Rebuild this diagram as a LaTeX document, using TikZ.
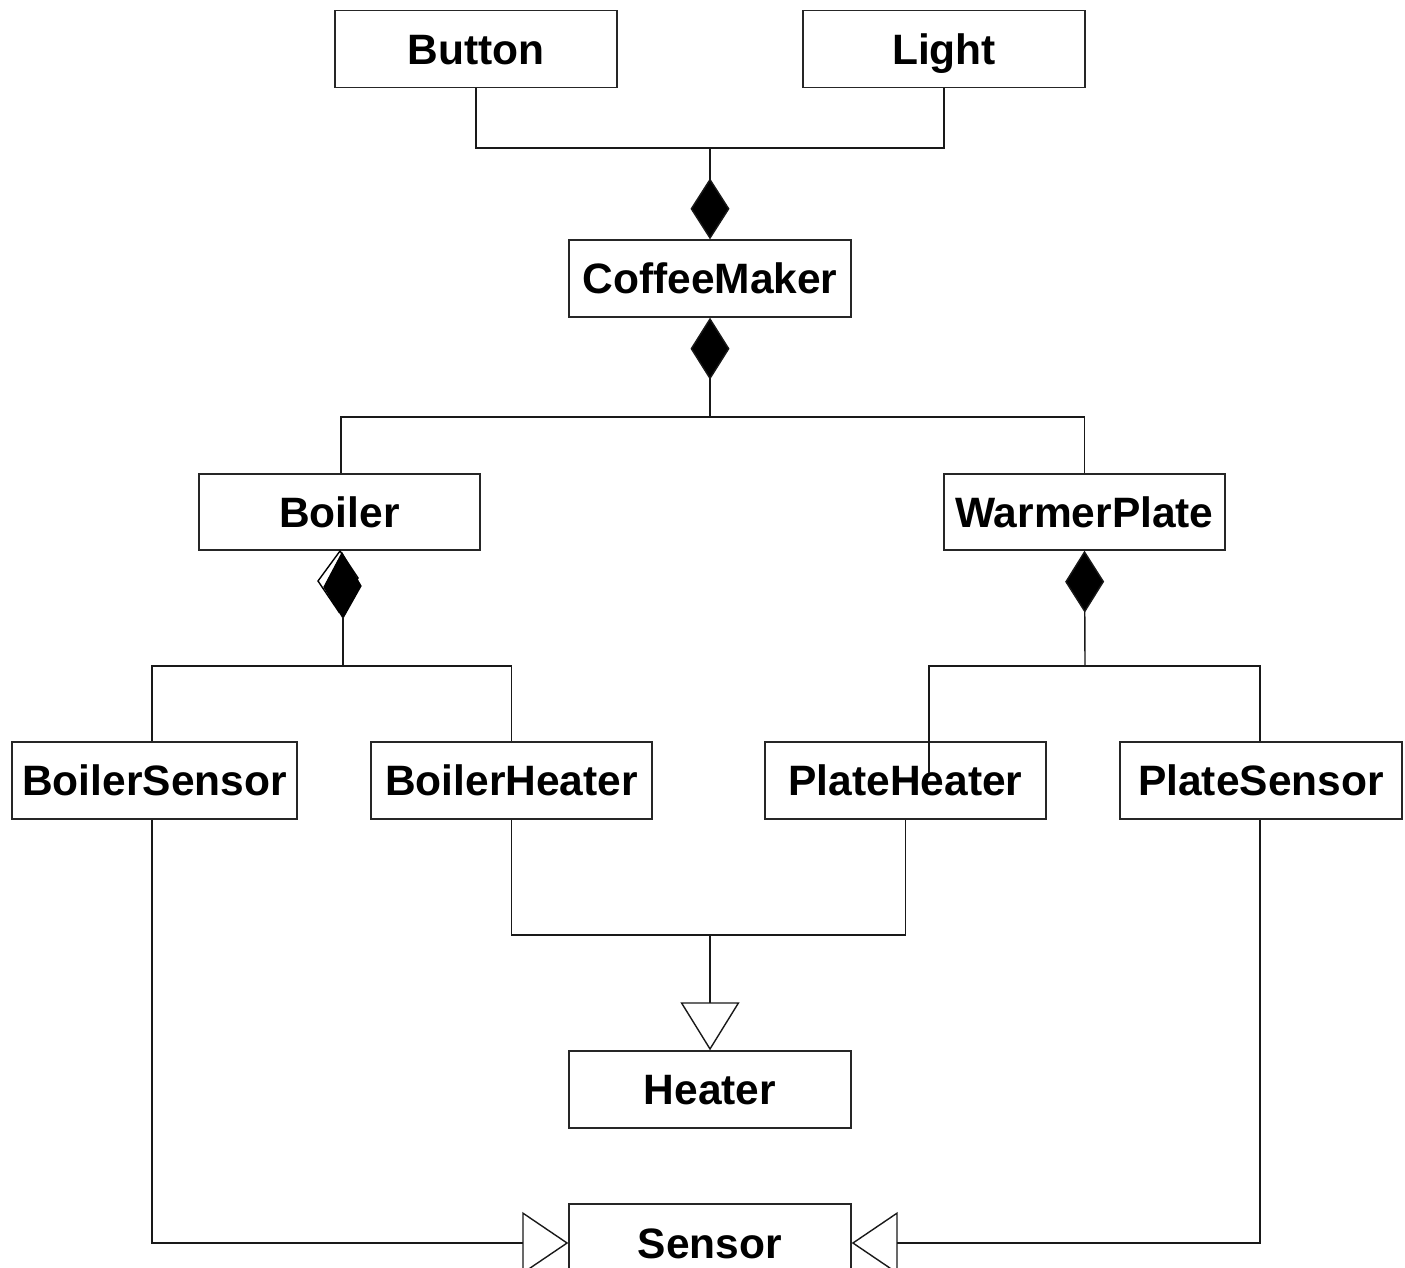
\documentclass[tikz,border=0pt]{standalone}
\usepackage{fontspec}
\setmainfont{Liberation Sans}
\usetikzlibrary{arrows.meta}
\tikzset{
  cls/.style={draw=black!85, line width=1.4pt, minimum width=282pt, minimum height=77pt,
    inner sep=0pt, text height=31pt, text depth=1pt,
    font=\fontsize{42.5}{50}\selectfont\bfseries},
  link/.style={draw=black!90, line width=1.4pt},
  compose/.style={link, -{Diamond[length=61pt,width=39pt,fill=black]}},
  composeback/.style={link, {Diamond[length=62pt,width=39pt,fill=black]}-},
  inherit/.style={link, -{Triangle[open,length=48pt,width=59pt]}},
  inheritside/.style={link, -{Triangle[open,length=46pt,width=62pt]}},
}
\begin{document}
\begin{tikzpicture}[x=1pt,y=-1pt]
\useasboundingbox (0,0) rectangle (1405,1267);
\clip (0,0) rectangle (1405,1267);

% classes
\node[cls] (button)  at (476,49)    {Button};
\node[cls] (light)   at (944,49)    {Light};
\node[cls] (coffee)  at (710,278.5) {CoffeeMaker};
\node[cls, minimum width=281pt, minimum height=76pt] (boiler) at (339.5,512) {Boiler};
\node[cls, minimum width=281pt, minimum height=76pt] (warmer) at (1084.5,512) {WarmerPlate};
\node[cls, minimum width=285pt] (bsensor) at (154.5,780.5) {BoilerSensor};
\node[cls, minimum width=281pt] (bheater) at (511.5,780.5) {BoilerHeater};
\node[cls, minimum width=281pt] (pheater) at (905.5,780.5) {PlateHeater};
\node[cls] (psensor) at (1261,780.5) {PlateSensor};
\node[cls] (heater)  at (710,1089.5) {Heater};
\node[cls, minimum height=78pt] (sensor) at (710,1243) {Sensor};

% junction points of the connector trees
\coordinate (jtop)    at (710,148);
\coordinate (jmid)    at (710,417);
\coordinate (jboiler) at (341,666);
\coordinate (jwarm)   at (1085,666);
\coordinate (jheat)   at (710,935);
\coordinate (pstub)   at (929,773);
\coordinate (bdtip)   at (343,617);

% CoffeeMaker owns Button and Light
\draw[link] (button.south) |- (jtop) -| (light.south);
\draw[compose] (jtop) -- (coffee.north);

% CoffeeMaker owns Boiler and WarmerPlate
\draw[composeback] (coffee.south) -- (jmid);
\draw[link] (boiler.north -| jboiler) |- (jmid) -| (warmer.north);

% Boiler owns BoilerSensor and BoilerHeater (doubled diamond)
\draw[line width=1.4pt, fill=white] (340,551) -- (358,578) -- (339,612) -- (318,581) -- cycle;
\draw[line width=1.2pt, fill=black] (342,553) -- (361,586) -- (343,618) -- (324,587) -- cycle;
\draw[link] (bdtip) -- (bdtip |- jboiler);
\draw[link] (bsensor.north -| 152,0) |- (jboiler) -| (bheater.north);

% WarmerPlate owns PlateHeater and PlateSensor
\draw[composeback] (warmer.south) -- (jwarm);
\draw[link] (pstub) |- (jwarm) -| (psensor.north -| 1260,0);

% heaters generalise to Heater
\draw[link] (bheater.south) |- (jheat) -| (pheater.south);
\draw[inherit] (jheat) -- (heater.north);

% sensors generalise to Sensor
\draw[inheritside] (bsensor.south -| 152,0) |- (sensor.west);
\draw[inheritside] (psensor.south -| 1260,0) |- (sensor.east);
\end{tikzpicture}
\end{document}
